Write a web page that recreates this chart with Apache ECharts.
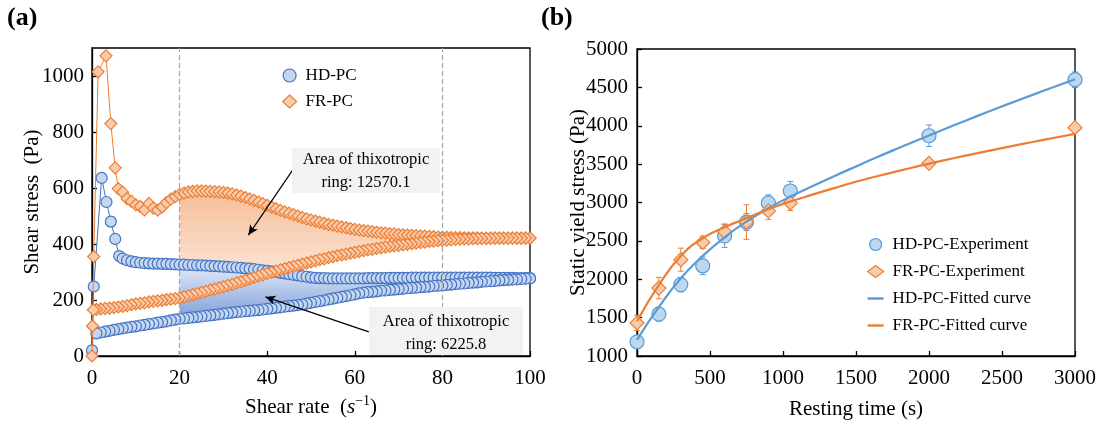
<!DOCTYPE html>
<html>
<head>
<meta charset="utf-8">
<script src="https://cdn.jsdelivr.net/npm/echarts/dist/echarts.min.js"></script>
<style>
  html, body { margin: 0; padding: 0; background: #fff; }
  #chart { width: 1102px; height: 425px; }
</style>
</head>
<body>
<div id="chart"></div>
<script>
// ---------- (a) thixotropic loops: shear stress (Pa) vs shear rate (1/s) ----------
const rates = [1,2,3,4,5,6,7,8,9,10,11,12,13,14,15,16,17,18,19,20,
  21,22,23,24,25,26,27,28,29,30,31,32,33,34,35,36,37,38,39,40,
  41,42,43,44,45,46,47,48,49,50,51,52,53,54,55,56,57,58,59,60,
  61,62,63,64,65,66,67,68,69,70,71,72,73,74,75,76,77,78,79,80,
  81,82,83,84,85,86,87,88,89,90,91,92,93,94,95,96,97,98,99,100];

// HD-PC ramp-up: start-up overshoot points, then rates 7..100
const hdStartRate = [0, 0.4, 2.2, 3.3, 4.3, 5.3, 6.2];
const hdStart = [20, 248, 636, 550, 480, 418, 357];
const hdUpSteady = [348,342,338,335,333,332,331,330,330,329,329,328,327,326,
  326,325,325,324,324,323,322,321,320,319,
  318,317,316,315,313,312,310,308,306,304,
  302,300,297,295,292,290,288,285,283,281,
  279,278,278,277,277,277,277,277,277,277,
  277,277,278,278,278,278,278,279,279,279,
  279,279,280,280,280,280,280,280,280,280,
  280,280,280,280,280,280,280,280,280,280,
  280,279,279,279,279,279,278,278,278,278];
// HD-PC ramp-down, listed for rates 1..100
const hdDown = [81,84,87,90,93,96,99,101,104,106,
  109,111,114,116,119,121,124,127,130,133,
  134,136,138,139,141,143,145,147,149,151,
  153,155,157,158,160,161,163,164,166,168,
  170,172,174,176,178,180,182,184,187,190,
  193,196,199,202,205,208,211,214,217,220,
  224,226,228,229,231,233,234,236,237,239,
  240,242,243,244,246,247,248,250,251,252,
  254,255,257,258,259,261,262,263,265,266,
  267,268,270,271,272,273,274,275,276,277];

// FR-PC ramp-up: start-up overshoot points, then rates 6..100
const frStartRate = [0, 0.1, 0.4, 1.4, 3.2, 4.3, 5.3];
const frStart = [0, 107, 355, 1015, 1072, 830, 672];
const frUpSteady = [598,585,562,552,540,534,522,545,528,521,532,548,560,569,577,
  582,586,588,590,590,589,588,587,586,584,
  582,579,575,571,566,561,556,550,544,538,
  532,526,520,515,510,505,500,495,490,486,
  482,478,474,470,467,464,461,458,455,452,
  450,448,446,444,442,440,439,437,436,434,
  433,432,431,430,429,428,427,426,425,424,
  424,423,423,423,422,422,422,422,421,421,
  421,421,421,421,421,421,421,421,421,421];
// FR-PC ramp-down, listed for rates 0.3 and 1..100
const frDownRate = [0.3].concat(rates);
const frDown = [165,
  166,168,170,171,173,175,177,180,183,186,
  188,190,193,195,197,199,201,203,205,207,
  211,215,219,223,227,231,235,239,243,247,
  252,256,261,265,270,275,280,285,290,295,
  299,303,308,312,316,320,324,328,332,336,
  340,344,347,351,354,358,361,364,367,370,
  373,376,379,381,384,386,389,391,393,395,
  397,399,401,403,405,407,409,410,412,413,
  414,415,416,417,418,418,419,419,420,420,
  420,421,421,421,421,421,421,421,421,421];

// rate window used for the ring areas
const ringFrom = 20, ringTo = 80;

// ---------- (b) static yield stress vs resting time ----------
const restTime = [0, 150, 300, 450, 600, 750, 900, 1050, 2000, 3000];
const hdExp = [1185, 1545, 1930, 2175, 2565, 2745, 2995, 3150, 3870, 4600];
const hdErr = [60, 90, 95, 115, 150, 110, 105, 125, 140, 100];
const frExp = [1430, 1885, 2255, 2480, 2620, 2745, 2890, 2995, 3510, 3975];
const frErr = [100, 140, 150, 80, 100, 225, 110, 100, 40, 40];

// fitted curves, read every 150 s
const fitTime = [0, 150, 300, 450, 600, 750, 900, 1050, 1200, 1350, 1500,
  1650, 1800, 1950, 2100, 2250, 2400, 2550, 2700, 2850, 3000];
const hdFit = [1210, 1639, 2013, 2304, 2547, 2751, 2925, 3077, 3212, 3343, 3470,
  3595, 3716, 3835, 3952, 4066, 4178, 4288, 4396, 4502, 4605];
const frFit = [1452, 1926, 2304, 2534, 2678, 2795, 2913, 3012, 3102, 3188, 3270,
  3345, 3415, 3483, 3548, 3610, 3670, 3728, 3785, 3840, 3894];

// ---------- helpers ----------
const FONT = '"Liberation Serif", "Times New Roman", serif';
const pair = (xs, ys) => xs.map((x, i) => [x, ys[i]]);
const plain = v => String(v);

const hdUp = pair(hdStartRate.concat(rates.slice(6)), hdStart.concat(hdUpSteady));
const hdDn = pair(rates, hdDown).reverse();
const frUp = pair(frStartRate.concat(rates.slice(5)), frStart.concat(frUpSteady));
const frDn = pair(frDownRate, frDown).reverse();

function ringArea(up, down, stops) {
  return function (params, api) {
    const upper = up.filter(p => p[0] >= ringFrom && p[0] <= ringTo);
    const lower = down.filter(p => p[0] >= ringFrom && p[0] <= ringTo)
      .sort((a, b) => b[0] - a[0]);
    const points = upper.concat(lower).map(p => api.coord(p));
    return {
      type: 'polygon',
      shape: { points: points },
      style: { fill: new echarts.graphic.LinearGradient(0, 0, 0, 1, stops) }
    };
  };
}

function errorBars(color) {
  return function (params, api) {
    const x = api.value(0);
    const a = api.coord([x, api.value(1)]);
    const b = api.coord([x, api.value(2)]);
    const w = 3;
    const st = { stroke: color, lineWidth: 1 };
    return {
      type: 'group',
      children: [
        { type: 'line', shape: { x1: a[0], y1: a[1], x2: b[0], y2: b[1] }, style: st },
        { type: 'line', shape: { x1: a[0] - w, y1: a[1], x2: a[0] + w, y2: a[1] }, style: st },
        { type: 'line', shape: { x1: b[0] - w, y1: b[1], x2: b[0] + w, y2: b[1] }, style: st }
      ]
    };
  };
}

const axisLine = { lineStyle: { color: '#000', width: 1.3 } };
const axisTick = { inside: true, length: 5, lineStyle: { color: '#000', width: 1.3 } };
const tickFont = { fontFamily: FONT, fontSize: 21, color: '#000', formatter: plain };
const nameFont = { fontFamily: FONT, fontSize: 21, color: '#000' };

const hdStyle = { color: '#c5d7ef', borderColor: '#4472c4', borderWidth: 1.2, opacity: 1 };
const frStyle = { color: '#f8cbad', borderColor: '#ed7d31', borderWidth: 1.2, opacity: 1 };
const hdExpStyle = { color: '#bdd7ee', borderColor: '#5b9bd5', borderWidth: 1.2, opacity: 1 };
const frExpStyle = { color: '#f8cbad', borderColor: '#ed7d31', borderWidth: 1.2, opacity: 1 };
const dash = 'path://M0,0H16V2.4H0Z';

const chart = echarts.init(document.getElementById('chart'), null, { renderer: 'canvas' });

chart.setOption({
  animation: false,
  backgroundColor: '#fff',
  grid: [
    { left: 92, right: 572, top: 48, bottom: 69, show: true, borderColor: '#000', borderWidth: 1.3 },
    { left: 637, right: 27, top: 49, bottom: 69, show: true, borderColor: '#000', borderWidth: 1.3 }
  ],
  xAxis: [
    {
      gridIndex: 0, type: 'value', min: 0, max: 100, interval: 20,
      axisLine: axisLine, axisTick: axisTick, splitLine: { show: false },
      axisLabel: Object.assign({ margin: 12 }, tickFont),
      name: '{t|Shear rate  (}{i|s}{sup|\u22121}{t|)}',
      nameLocation: 'middle', nameGap: 38, nameMoveOverlap: false,
      nameTextStyle: Object.assign({
        rich: {
          t: { fontFamily: FONT, fontSize: 21, color: '#000', lineHeight: 26 },
          i: { fontFamily: FONT, fontSize: 21, color: '#000', fontStyle: 'italic', lineHeight: 26 },
          sup: { fontFamily: FONT, fontSize: 14, color: '#000', verticalAlign: 'top', lineHeight: 26 }
        }
      }, nameFont)
    },
    {
      gridIndex: 1, type: 'value', min: 0, max: 3000, interval: 500,
      axisLine: axisLine, axisTick: axisTick, splitLine: { show: false },
      axisLabel: Object.assign({ margin: 12 }, tickFont),
      name: 'Resting time (s)', nameLocation: 'middle', nameGap: 43, nameMoveOverlap: false,
      nameTextStyle: nameFont
    }
  ],
  yAxis: [
    {
      gridIndex: 0, type: 'value', min: 0, max: 1100, interval: 200,
      axisLine: axisLine, axisTick: axisTick, splitLine: { show: false },
      axisLabel: Object.assign({ margin: 8, showMaxLabel: false }, tickFont),
      name: 'Shear stress  (Pa)', nameLocation: 'middle', nameGap: 49, nameMoveOverlap: false,
      nameTextStyle: nameFont
    },
    {
      gridIndex: 1, type: 'value', min: 1000, max: 5000, interval: 500,
      axisLine: axisLine, axisTick: axisTick, splitLine: { show: false },
      axisLabel: Object.assign({ margin: 9 }, tickFont),
      name: 'Static yield stress (Pa)', nameLocation: 'middle', nameGap: 48, nameMoveOverlap: false,
      nameTextStyle: nameFont
    }
  ],
  legend: [
    {
      orient: 'vertical', left: 277, top: 62, itemWidth: 14, itemHeight: 13, itemGap: 9,
      textStyle: { fontFamily: FONT, fontSize: 17, color: '#000', padding: [0, 0, 0, 4] },
      data: [
        { name: 'HD-PC', icon: 'circle', itemStyle: hdStyle },
        { name: 'FR-PC', icon: 'diamond', itemStyle: frStyle }
      ]
    },
    {
      orient: 'vertical', left: 862, top: 231, itemWidth: 16, itemHeight: 12, itemGap: 10,
      textStyle: { fontFamily: FONT, fontSize: 17, color: '#000', padding: [0, 0, 0, 4] },
      data: [
        { name: 'HD-PC-Experiment', icon: 'circle', itemStyle: hdExpStyle },
        { name: 'FR-PC-Experiment', icon: 'diamond', itemStyle: frExpStyle },
        { name: 'HD-PC-Fitted curve', icon: dash, itemStyle: { color: '#5b9bd5', borderWidth: 0 } },
        { name: 'FR-PC-Fitted curve', icon: dash, itemStyle: { color: '#ed7d31', borderWidth: 0 } }
      ]
    }
  ],
  series: [
    // ring areas between ramp-up and ramp-down curves
    {
      type: 'custom', xAxisIndex: 0, yAxisIndex: 0, z: 1, silent: true, clip: true,
      data: [[ringFrom, 0]],
      renderItem: ringArea(frUp, frDn, [
        { offset: 0, color: '#f6bd98' }, { offset: 1, color: '#fdf0e7' }
      ])
    },
    {
      type: 'custom', xAxisIndex: 0, yAxisIndex: 0, z: 1, silent: true, clip: true,
      data: [[ringFrom, 0]],
      renderItem: ringArea(hdUp, hdDn, [
        { offset: 0, color: '#e4ebf8' }, { offset: 1, color: '#7e9ed8' }
      ])
    },
    // dashed guides bounding the ring window
    {
      type: 'line', xAxisIndex: 0, yAxisIndex: 0, data: [], z: 1, silent: true,
      markLine: {
        silent: true, symbol: 'none', label: { show: false },
        lineStyle: { color: '#a6a6a6', width: 1.2, type: [5, 3] },
        data: [{ xAxis: ringFrom }, { xAxis: ringTo }]
      }
    },
    {
      name: 'HD-PC', type: 'line', xAxisIndex: 0, yAxisIndex: 0, z: 3,
      data: hdUp.concat(hdDn),
      symbol: 'circle', symbolSize: 11, showAllSymbol: true,
      itemStyle: hdStyle, lineStyle: { color: '#4472c4', width: 1 }
    },
    {
      name: 'FR-PC', type: 'line', xAxisIndex: 0, yAxisIndex: 0, z: 4,
      data: frUp.concat(frDn),
      symbol: 'diamond', symbolSize: 12, showAllSymbol: true,
      itemStyle: frStyle, lineStyle: { color: '#ed7d31', width: 1 }
    },
    // arrows pointing at the ring areas
    {
      type: 'line', xAxisIndex: 0, yAxisIndex: 0, data: [], z: 6, silent: true,
      markLine: {
        silent: true, symbol: ['none', 'arrow'], symbolSize: [7, 10],
        label: { show: false },
        lineStyle: { color: '#000', width: 1.2, type: 'solid' },
        data: [
          [{ coord: [45.8, 664] }, { coord: [35.7, 432] }],
          [{ coord: [63.2, 86] }, { coord: [39.6, 211] }]
        ]
      }
    },
    // (b) error bars
    {
      type: 'custom', xAxisIndex: 1, yAxisIndex: 1, z: 2, silent: true,
      data: restTime.map((t, i) => [t, hdExp[i] - hdErr[i], hdExp[i] + hdErr[i]]),
      renderItem: errorBars('#5b9bd5')
    },
    {
      type: 'custom', xAxisIndex: 1, yAxisIndex: 1, z: 2, silent: true,
      data: restTime.map((t, i) => [t, frExp[i] - frErr[i], frExp[i] + frErr[i]]),
      renderItem: errorBars('#ed7d31')
    },
    {
      name: 'HD-PC-Experiment', type: 'scatter', xAxisIndex: 1, yAxisIndex: 1, z: 3,
      data: pair(restTime, hdExp), symbol: 'circle', symbolSize: 14, itemStyle: hdExpStyle
    },
    {
      name: 'FR-PC-Experiment', type: 'scatter', xAxisIndex: 1, yAxisIndex: 1, z: 3,
      data: pair(restTime, frExp), symbol: 'diamond', symbolSize: 14, itemStyle: frExpStyle
    },
    {
      name: 'HD-PC-Fitted curve', type: 'line', xAxisIndex: 1, yAxisIndex: 1, z: 4,
      data: pair(fitTime, hdFit), smooth: 0.5, symbol: 'none',
      itemStyle: { color: '#5b9bd5' }, lineStyle: { color: '#5b9bd5', width: 2.2 }
    },
    {
      name: 'FR-PC-Fitted curve', type: 'line', xAxisIndex: 1, yAxisIndex: 1, z: 4,
      data: pair(fitTime, frFit), smooth: 0.5, symbol: 'none',
      itemStyle: { color: '#ed7d31' }, lineStyle: { color: '#ed7d31', width: 2.2 }
    }
  ],
  graphic: [
    { type: 'text', left: 7, top: 5, z: 100, style: { text: '(a)', font: 'bold 26px ' + FONT, fill: '#000' } },
    { type: 'text', left: 541, top: 5, z: 100, style: { text: '(b)', font: 'bold 26px ' + FONT, fill: '#000' } },
    {
      type: 'group', z: 100,
      children: [
        { type: 'rect', shape: { x: 292, y: 148, width: 148, height: 45 }, style: { fill: '#f2f2f2' }, z: 100 },
        {
          type: 'text', x: 366, y: 171, z: 101,
          style: {
            text: 'Area of thixotropic\nring: 12570.1', font: '16.5px ' + FONT, fill: '#000',
            align: 'center', verticalAlign: 'middle', lineHeight: 23
          }
        },
        { type: 'rect', shape: { x: 369, y: 307, width: 154, height: 48 }, style: { fill: '#f2f2f2' }, z: 100 },
        {
          type: 'text', x: 446, y: 333, z: 101,
          style: {
            text: 'Area of thixotropic\nring: 6225.8', font: '16.5px ' + FONT, fill: '#000',
            align: 'center', verticalAlign: 'middle', lineHeight: 23
          }
        }
      ]
    }
  ]
});
</script>
</body>
</html>
